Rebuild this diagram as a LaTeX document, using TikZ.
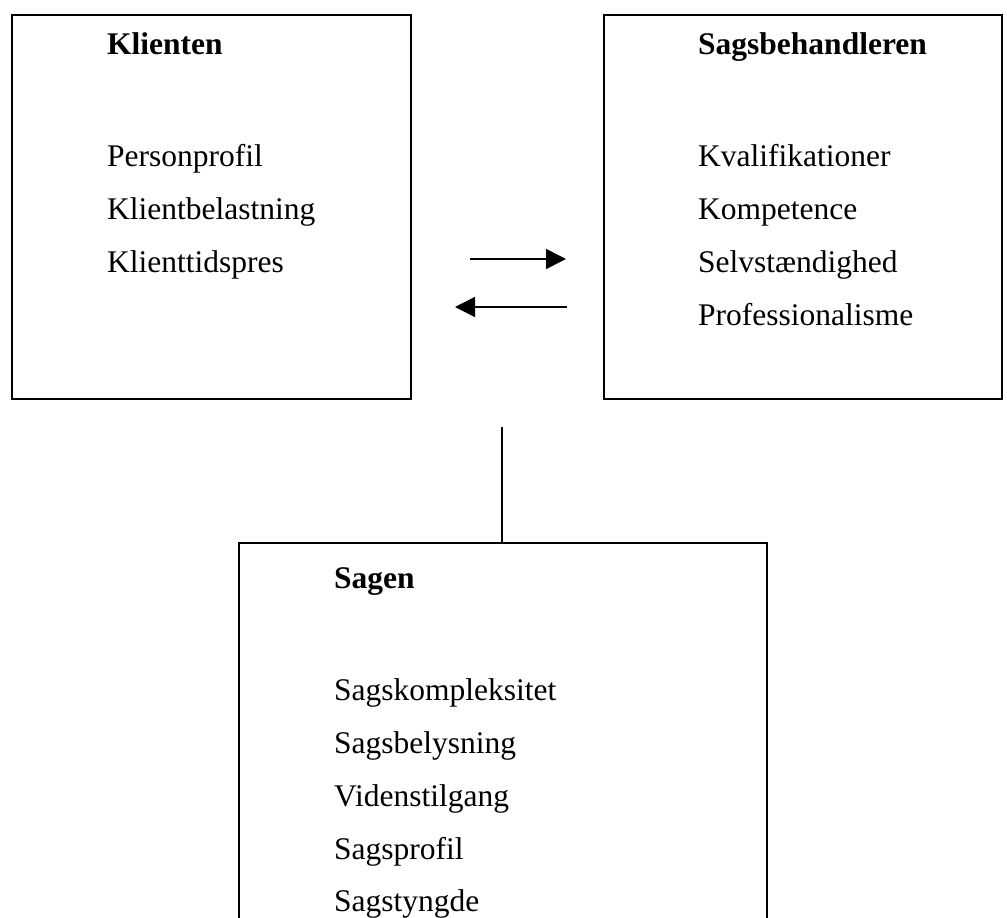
\documentclass[tikz,border=0pt]{standalone}
\usepackage{fontspec}
\setmainfont{Liberation Serif}
\usetikzlibrary{arrows.meta}
\begin{document}
\begin{tikzpicture}[x=1pt,y=-1pt,
  box/.style={draw=black, line width=1.8pt, rectangle, inner sep=0pt, anchor=north west},
  txt/.style={anchor=base west, inner sep=0pt, font=\fontsize{31.5}{38}\selectfont},
  ttl/.style={txt, font=\fontsize{31.5}{38}\selectfont\bfseries},
  conn/.style={line width=1.6pt, draw=black},
  arr/.style={conn, -{Triangle[length=20pt,width=20pt]}}
]
\useasboundingbox (0,0) rectangle (1007,918);
\clip (0,0) rectangle (1007,918);
% boxes
\node[box, minimum width=399pt, minimum height=384pt] (klient) at (11,14) {};
\node[box, minimum width=398pt, minimum height=384pt] (sagsb) at (603,14) {};
\node[box, minimum width=528pt, minimum height=420pt] (sagen) at (238,542) {};
% left box text
\node[ttl] (t1) at (107,54) {Klienten};
\node[txt] (a1) at (107,166) {Personprofil};
\node[txt] (a2) at (107,219) {Klientbelastning};
\node[txt] (a3) at (107,272) {Klienttidspres};
% right box text
\node[ttl] (t2) at (698,54) {Sagsbehandleren};
\node[txt] (b1) at (698,166) {Kvalifikationer};
\node[txt] (b2) at (698,219) {Kompetence};
\node[txt] (b3) at (698,272) {Selvstændighed};
\node[txt] (b4) at (698,325) {Professionalisme};
% bottom box text
\node[ttl] (t3) at (334,588) {Sagen};
\node[txt] (c1) at (334,700) {Sagskompleksitet};
\node[txt] (c2) at (334,753) {Sagsbelysning};
\node[txt] (c3) at (334,806) {Videnstilgang};
\node[txt] (c4) at (334,859) {Sagsprofil};
\node[txt] (c5) at (334,911) {Sagstyngde};
% connectors
\coordinate (r1) at (470,259);
\coordinate (r2) at (566,259);
\coordinate (l1) at (567,307);
\coordinate (l2) at (455,307);
\draw[arr] (r1) -- (r2);
\draw[arr] (l1) -- (l2);
\coordinate (vtop) at (502,427);
\draw[conn] (vtop) -- (sagen.north -| vtop);
\end{tikzpicture}
\end{document}
